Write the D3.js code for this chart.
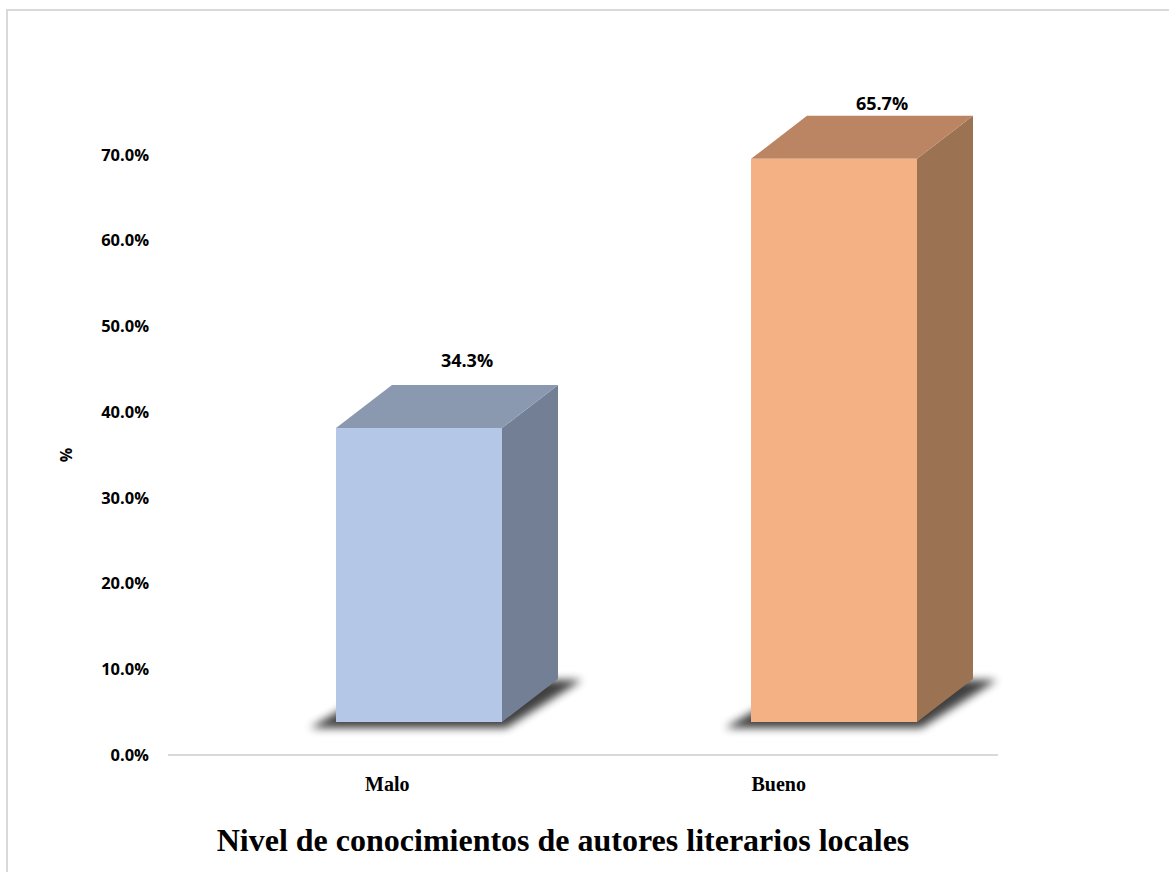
<!DOCTYPE html>
<html>
<head>
<meta charset="utf-8">
<script src="https://cdn.jsdelivr.net/npm/d3@7"></script>
<style>
  body { margin: 0; background: #fff; }
  svg { display: block; }
</style>
</head>
<body>
<div id="chart"></div>
<script>
// chart data
var categories = ["Malo", "Bueno"];
var values = [34.3, 65.7];
var yTicks = [0, 10, 20, 30, 40, 50, 60, 70];

var fronts = ["#b4c7e7", "#f4b183"];
var tops = ["#8a99b0", "#bb8462"];
var sides = ["#737f94", "#9c7352"];

var svgWidth = 1169;
var svgHeight = 872;

var svg = d3.select("#chart")
  .append("svg")
  .attr("width", svgWidth)
  .attr("height", svgHeight);

// outer frame
svg.append("rect")
  .attr("x", 7)
  .attr("y", 10)
  .attr("width", 1180)
  .attr("height", 900)
  .attr("fill", "none")
  .attr("stroke", "#d9d9d9")
  .attr("stroke-width", 2);

var defs = svg.append("defs");
defs.append("filter")
  .attr("id", "blur")
  .attr("x", "-20%").attr("y", "-50%")
  .attr("width", "140%").attr("height", "200%")
  .append("feGaussianBlur")
  .attr("stdDeviation", 4);

// scales
var x = d3.scaleBand()
  .domain(categories)
  .range([168, 998])
  .padding(0);

var xLabel = d3.scalePoint()
  .domain(categories)
  .range([168, 998])
  .padding(0.56);

var y = d3.scaleLinear()
  .domain([0, 70])
  .range([755, 155]);

// 3d offsets
var depthX = 56;
var depthY = -43;
var floorLift = 33;

// baseline
svg.append("line")
  .attr("x1", 168)
  .attr("x2", 998)
  .attr("y1", y(0))
  .attr("y2", y(0))
  .attr("stroke", "#d9d9d9")
  .attr("stroke-width", 2);

// y tick labels
svg.append("g")
  .selectAll("text")
  .data(yTicks)
  .enter()
  .append("text")
  .attr("x", 149)
  .attr("y", d => y(d))
  .attr("dy", "0.35em")
  .attr("text-anchor", "end")
  .style("font-family", "'Open Sans', sans-serif")
  .style("font-weight", "700")
  .style("font-size", "16.5px")
  .attr("fill", "#000")
  .text(d => d3.format(".1f")(d) + "%");

// y axis title
svg.append("text")
  .attr("transform", "translate(66, 455) rotate(-90)")
  .attr("text-anchor", "middle")
  .attr("dy", "0.35em")
  .style("font-family", "'Open Sans', sans-serif")
  .style("font-weight", "700")
  .style("font-size", "16px")
  .text("%");

var bars = categories.map(function(c, i) {
  var w = x.bandwidth() * 0.4;
  var left = x(c) + x.bandwidth() / 2 - 39.5;
  var bottom = y(0) - floorLift;
  var top = y(values[i]) - floorLift;
  return { cat: c, value: values[i], i: i, left: left, right: left + w, top: top, bottom: bottom };
});

function pts(a) { return a.map(p => p.join(",")).join(" "); }

var barG = svg.append("g");

// shadows
barG.selectAll("polygon.shadow")
  .data(bars)
  .enter()
  .append("polygon")
  .attr("class", "shadow")
  .attr("points", d => pts([
    [d.left - 26, d.bottom + 6],
    [d.right + 4, d.bottom + 6],
    [d.right + depthX + 24, d.bottom + depthY + 1],
    [d.left + depthX, d.bottom + depthY + 1]
  ]))
  .attr("fill", "#000")
  .attr("opacity", 0.75)
  .attr("filter", "url(#blur)");

// side faces
barG.selectAll("polygon.side")
  .data(bars)
  .enter()
  .append("polygon")
  .attr("class", "side")
  .attr("points", d => pts([
    [d.right, d.bottom],
    [d.right, d.top],
    [d.right + depthX, d.top + depthY],
    [d.right + depthX, d.bottom + depthY]
  ]))
  .attr("fill", d => sides[d.i]);

// top faces
barG.selectAll("polygon.top")
  .data(bars)
  .enter()
  .append("polygon")
  .attr("class", "top")
  .attr("points", d => pts([
    [d.left, d.top],
    [d.right, d.top],
    [d.right + depthX, d.top + depthY],
    [d.left + depthX, d.top + depthY]
  ]))
  .attr("fill", d => tops[d.i]);

// front faces
barG.selectAll("rect.front")
  .data(bars)
  .enter()
  .append("rect")
  .attr("class", "front")
  .attr("x", d => d.left)
  .attr("y", d => d.top)
  .attr("width", d => d.right - d.left)
  .attr("height", d => d.bottom - d.top)
  .attr("fill", d => fronts[d.i]);

// value labels
barG.selectAll("text.val")
  .data(bars)
  .enter()
  .append("text")
  .attr("class", "val")
  .attr("x", d => (d.left + d.right) / 2 + 48)
  .attr("y", d => Math.max(d.top + depthY - 18, 110))
  .attr("text-anchor", "middle")
  .style("font-family", "'Open Sans', sans-serif")
  .style("font-weight", "700")
  .style("font-size", "18px")
  .text(d => d3.format(".1f")(d.value) + "%");

// category labels
svg.append("g")
  .selectAll("text")
  .data(categories)
  .enter()
  .append("text")
  .attr("x", d => xLabel(d))
  .attr("y", 791)
  .attr("text-anchor", "middle")
  .style("font-family", "'Liberation Serif', serif")
  .style("font-weight", "700")
  .style("font-size", "20px")
  .text(d => d);

// title
svg.append("text")
  .attr("x", 563)
  .attr("y", 851)
  .attr("text-anchor", "middle")
  .style("font-family", "'Liberation Serif', serif")
  .style("font-weight", "700")
  .style("font-size", "32px")
  .text("Nivel de conocimientos de autores literarios locales");
</script>
</body>
</html>
